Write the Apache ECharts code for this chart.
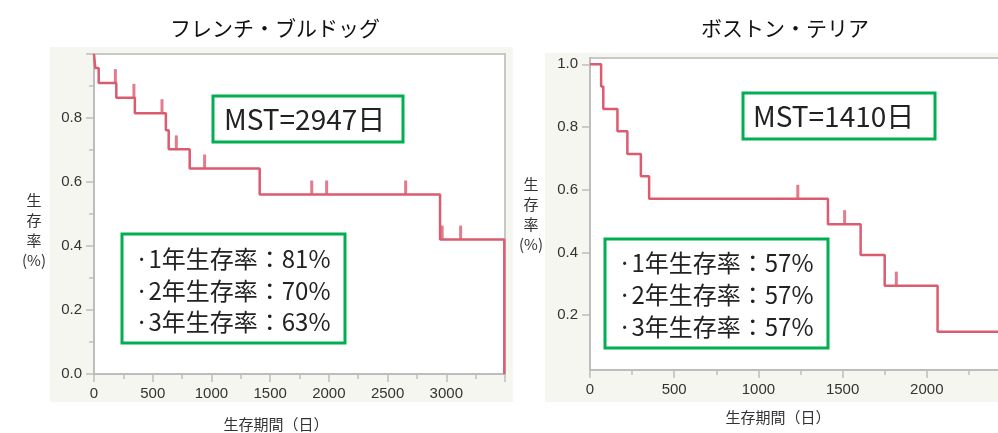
<!DOCTYPE html>
<html>
<head>
<meta charset="utf-8">
<script src="https://cdn.jsdelivr.net/npm/echarts@6/dist/echarts.min.js"></script>
<style>
  html, body { margin: 0; padding: 0; background: #fff; }
  #survivalChart { width: 998px; height: 433px; }
</style>
</head>
<body>
<div id="survivalChart"></div>
<script>
// フレンチ・ブルドッグ
const bulldogDays = [0, 11, 40, 190, 348, 612, 636, 815, 1411, 2947, 3494];
const bulldogSurv = [1.0, 0.956, 0.909, 0.863, 0.815, 0.762, 0.702, 0.642, 0.561, 0.42, 0];
const bulldogCensorDays = [182, 340, 579, 701, 942, 1854, 1981, 2654, 2965, 3122];
const bulldogCensorSurv = [0.909, 0.863, 0.815, 0.702, 0.642, 0.561, 0.561, 0.561, 0.42, 0.42];
const bulldogRates = ["·1年生存率：81%", "·2年生存率：70%", "·3年生存率：63%"];
// ボストン・テリア
const terrierDays = [0, 66, 79, 163, 222, 302, 351, 1413, 1607, 1750, 2064, 2500];
const terrierSurv = [1.0, 0.929, 0.857, 0.786, 0.714, 0.643, 0.571, 0.49, 0.392, 0.294, 0.147, 0.147];
const terrierCensorDays = [1234, 1512, 1819];
const terrierCensorSurv = [0.571, 0.49, 0.294];
const terrierRates = ["·1年生存率：57%", "·2年生存率：57%", "·3年生存率：57%"];
// tick labels (right chart's y axis)
const terrierYLabels = [0.2, 0.4, 0.6, 0.8, 1.0];
const terrierYMinor = [0.1, 0.3, 0.5, 0.7, 0.9];

const curveColor = "#db5b6f";
const axisGray = "#bdbdbd";
const boxGreen = "#00b050";
const labelFont = "Liberation Sans";
const jpFont = "Noto Sans CJK JP";

const zip = (xs, ys) => xs.map((x, i) => [x, ys[i]]);

const axisLabel = {
  color: "#333",
  fontSize: 15,
  fontFamily: labelFont,
  margin: 12,
};
const axisLine = { lineStyle: { color: axisGray, width: 2 } };
const axisTick = { length: 8, lineStyle: { color: axisGray, width: 1.5 } };
const minorTick = { show: true, splitNumber: 2, length: 5, lineStyle: { color: axisGray, width: 1.5 } };

const text = (x, y, str, size, align, extra) => ({
  type: "text",
  x: x,
  y: y,
  style: Object.assign({
    text: str,
    font: size + "px '" + jpFont + "'",
    fill: "#222",
    textAlign: align || "left",
    textVerticalAlign: "middle",
  }, extra || {}),
});
const box = (x, y, w, h) => ({
  type: "rect",
  shape: { x: x, y: y, width: w, height: h },
  style: { fill: "#fff", stroke: boxGreen, lineWidth: 3 },
  z: 10,
});

const chart = echarts.init(document.getElementById("survivalChart"));
chart.setOption({
  animation: false,
  grid: [
    { left: 94, top: 54, right: 493, bottom: 59, outerBoundsMode: "none", show: true, backgroundColor: "#fff", borderColor: "#c8c8c8", borderWidth: 2 },
    { left: 590, top: 58, right: -13, bottom: 63, outerBoundsMode: "none", show: true, backgroundColor: "#fff", borderColor: "#c8c8c8", borderWidth: 2 },
  ],
  xAxis: [
    {
      gridIndex: 0, type: "value", min: 0, max: 3500, interval: 500,
      axisLine: axisLine, axisTick: axisTick, minorTick: minorTick,
      splitLine: { show: false },
      axisLabel: Object.assign({ showMaxLabel: false, formatter: (v) => String(v) }, axisLabel),
    },
    {
      gridIndex: 1, type: "value", min: 0, max: 2500, interval: 500,
      axisLine: axisLine, axisTick: axisTick, minorTick: minorTick,
      splitLine: { show: false },
      axisLabel: Object.assign({ showMaxLabel: false, formatter: (v) => String(v) }, axisLabel),
    },
  ],
  yAxis: [
    {
      gridIndex: 0, type: "value", min: 0, max: 1, interval: 0.2,
      axisLine: Object.assign({ show: true }, axisLine), axisTick: Object.assign({ show: true }, axisTick), minorTick: minorTick,
      splitLine: { show: false },
      axisLabel: Object.assign({ showMaxLabel: false, formatter: (v) => v.toFixed(1) }, axisLabel),
    },
    {
      gridIndex: 1, type: "value", min: 0.025, max: 1.02,
      axisLine: Object.assign({ show: true }, axisLine),
      axisTick: Object.assign({ show: true, customValues: terrierYLabels }, axisTick),
      splitLine: { show: false },
      axisLabel: Object.assign({ customValues: terrierYLabels, formatter: (v) => v.toFixed(1) }, axisLabel),
    },
    {
      // minor ticks only
      gridIndex: 1, type: "value", min: 0.025, max: 1.02,
      axisLine: { show: false },
      axisTick: { show: true, customValues: terrierYMinor, length: 5, lineStyle: { color: axisGray, width: 1.5 } },
      splitLine: { show: false },
      axisLabel: { show: false },
    },
  ],
  series: [
    {
      type: "line", xAxisIndex: 0, yAxisIndex: 0, step: "end", symbol: "none",
      data: zip(bulldogDays, bulldogSurv),
      lineStyle: { color: curveColor, width: 2.5 },
    },
    {
      type: "scatter", xAxisIndex: 0, yAxisIndex: 0, symbol: "rect",
      symbolSize: [3, 14], symbolOffset: [0, -7],
      itemStyle: { color: curveColor },
      data: zip(bulldogCensorDays, bulldogCensorSurv),
    },
    {
      type: "line", xAxisIndex: 1, yAxisIndex: 1, step: "end", symbol: "none",
      data: zip(terrierDays, terrierSurv),
      lineStyle: { color: curveColor, width: 2.5 },
    },
    {
      type: "scatter", xAxisIndex: 1, yAxisIndex: 1, symbol: "rect",
      symbolSize: [3, 14], symbolOffset: [0, -7],
      itemStyle: { color: curveColor },
      data: zip(terrierCensorDays, terrierCensorSurv),
    },
  ],
  graphic: [
    // gray panel backgrounds
    { type: "rect", shape: { x: 50, y: 47, width: 463, height: 355 }, style: { fill: "#f6f6f1" }, z: -100 },
    { type: "rect", shape: { x: 545, y: 53, width: 453, height: 349 }, style: { fill: "#f6f6f1" }, z: -100 },
    // titles
    text(275, 28, "フレンチ・ブルドッグ", 21, "center", { fill: "#111" }),
    text(785, 28, "ボストン・テリア", 21, "center", { fill: "#111" }),
    // axis names
    text(34, 190, "生\n存\n率\n(%)", 15, "center", { textVerticalAlign: "top", lineHeight: 20, fill: "#333" }),
    text(531, 174, "生\n存\n率\n(%)", 15, "center", { textVerticalAlign: "top", lineHeight: 20, fill: "#333" }),
    text(276, 424, "生存期間（日）", 15, "center", { fill: "#333" }),
    text(778, 417, "生存期間（日）", 15, "center", { fill: "#333" }),
    // annotation boxes
    box(213, 96, 190, 46),
    Object.assign(text(224, 119, "MST=2947日", 28), { z: 11 }),
    box(122, 234, 223, 109),
    Object.assign(text(135, 259, bulldogRates[0], 24), { z: 11 }),
    Object.assign(text(135, 291, bulldogRates[1], 24), { z: 11 }),
    Object.assign(text(135, 322, bulldogRates[2], 24), { z: 11 }),
    box(743, 93, 192, 46),
    Object.assign(text(753, 116, "MST=1410日", 28), { z: 11 }),
    box(605, 239, 223, 109),
    Object.assign(text(618, 263, terrierRates[0], 24), { z: 11 }),
    Object.assign(text(618, 295, terrierRates[1], 24), { z: 11 }),
    Object.assign(text(618, 327, terrierRates[2], 24), { z: 11 }),
  ],
});
window.addEventListener("resize", () => {
  chart.resize();
});
</script>
</body>
</html>
